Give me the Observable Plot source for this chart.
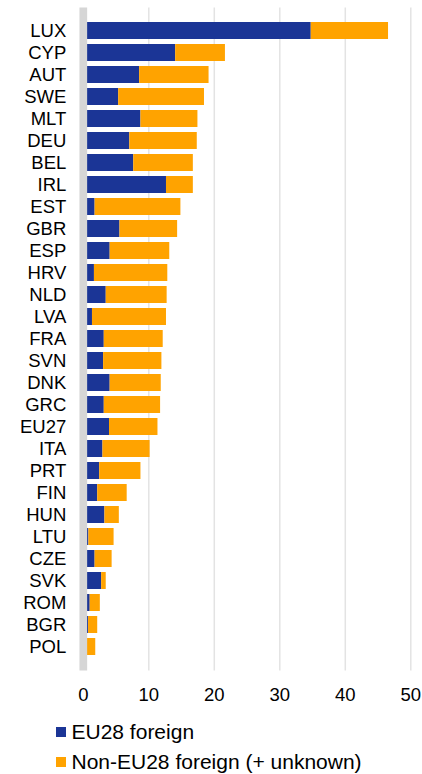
<!DOCTYPE html>
<html>
<head>
<meta charset="utf-8">
<script src="https://cdn.jsdelivr.net/npm/d3@7"></script>
<script src="https://cdn.jsdelivr.net/npm/@observablehq/plot@0.6"></script>
<style>
  html, body { margin: 0; padding: 0; background: #fff; }
  body { width: 422px; height: 774px; overflow: hidden; font-family: "Liberation Sans", Arial, sans-serif; }
  #chart svg { display: block; }
  .legend { position: relative; margin-left: 56px; margin-top: 5px; font-size: 21px; color: #000; }
  .legend .item { display: flex; align-items: center; height: 30px; }
  .legend .sw { width: 10px; height: 10px; margin-right: 5.5px; flex: none; }
</style>
</head>
<body>
<div id="chart"></div>
<div class="legend" id="legend"></div>
<script>
const countries = ["LUX","CYP","AUT","SWE","MLT","DEU","BEL","IRL","EST","GBR","ESP","HRV","NLD","LVA","FRA","SVN","DNK","GRC","EU27","ITA","PRT","FIN","HUN","LTU","CZE","SVK","ROM","BGR","POL"];
const eu28Foreign = [34.8,14.1,8.6,5.4,8.8,7.1,7.7,12.7,1.8,5.6,4.1,1.7,3.5,1.4,3.2,3.1,4.1,3.2,4.0,3.0,2.5,2.2,3.3,0.85,1.8,2.8,1.05,0.8,0.1];
const nonEu28Foreign = [11.8,7.6,10.6,13.1,8.7,10.3,9.1,4.1,13.1,8.8,9.1,11.2,9.3,11.3,9.0,8.9,7.8,8.6,7.4,7.2,6.3,4.5,2.2,3.85,2.6,0.7,1.55,1.4,1.8];
const seriesNames = ["EU28 foreign", "Non-EU28 foreign (+ unknown)"];
const seriesColors = ["#1b3596", "#ffa300"];
const xTicks = [0, 10, 20, 30, 40, 50];

const rows = [];
countries.forEach((c, i) => {
  rows.push({country: c, series: seriesNames[0], value: eu28Foreign[i]});
  rows.push({country: c, series: seriesNames[1], value: nonEu28Foreign[i]});
});

const chart = Plot.plot({
  width: 422,
  height: 712,
  marginTop: 7.5,
  marginBottom: 41.5,
  marginLeft: 82.8,
  marginRight: 11.7,
  style: {fontFamily: "Liberation Sans, Arial, sans-serif", fontSize: "18.5px", color: "#000", background: "#fff"},
  x: {domain: [0, 50]},
  y: {domain: countries, padding: 0.21},
  color: {domain: seriesNames, range: seriesColors},
  marks: [
    Plot.ruleX(xTicks.slice(1), {stroke: "#e3e3e3", strokeWidth: 1.5}),
    Plot.barX(rows, Plot.stackX({y: "country", x: "value", fill: "series", order: seriesNames})),
    Plot.ruleX([0], {stroke: "#d6d6d6", strokeWidth: 7.7}),
    Plot.axisY({tickSize: 0, tickPadding: 17, fontSize: 18.5, label: null}),
    Plot.axisX({ticks: xTicks, tickSize: 0, tickPadding: 17, fontSize: 18.5, label: null, tickFormat: d => String(d)})
  ]
});
document.getElementById("chart").appendChild(chart);

const legend = document.getElementById("legend");
seriesNames.forEach((name, i) => {
  const item = document.createElement("div");
  item.className = "item";
  const sw = document.createElement("span");
  sw.className = "sw";
  sw.style.background = seriesColors[i];
  const t = document.createElement("span");
  t.textContent = name;
  item.appendChild(sw);
  item.appendChild(t);
  legend.appendChild(item);
});
</script>
</body>
</html>
